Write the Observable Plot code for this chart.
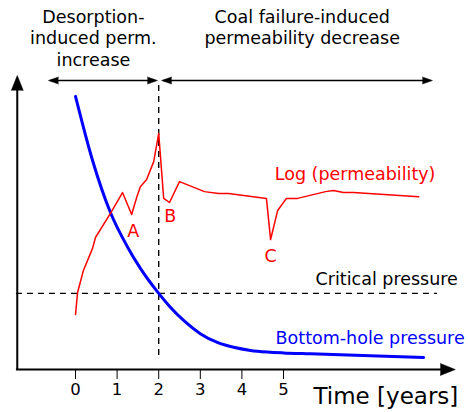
<!DOCTYPE html>
<html>
<head>
<meta charset="utf-8">
<script src="https://cdn.jsdelivr.net/npm/d3@7"></script>
<script src="https://cdn.jsdelivr.net/npm/@observablehq/plot@0.6"></script>
<style>
  html, body { margin: 0; padding: 0; background: #fff; }
</style>
</head>
<body>
<div id="chart"></div>
<script>
// ---- Data (time in years, values in relative units 0–100) ----
const tickYears = [0, 1, 2, 3, 4, 5];

const bhpYears  = [0, 0.41, 0.84, 1.25, 1.56, 2.0, 2.28, 2.6, 3.0, 3.41, 3.8, 4.21, 4.62, 5.0, 5.65, 7.09, 8.37];
const bhpValues = [92.9, 71.1, 53.4, 41.7, 34.4, 25.9, 21.2, 16.7, 12.2, 9.2, 7.55, 6.5, 5.95, 5.65, 5.33, 4.65, 4.1];

const permYears  = [0, 0.05, 0.19, 0.41, 0.48, 0.84, 1.13, 1.35, 1.47, 1.56, 1.71, 1.88, 2.0, 2.12, 2.26, 2.5, 3.1, 3.44, 3.68, 4.59, 4.69, 4.86, 5.07, 5.34, 6.01, 6.2, 6.44, 6.68, 8.25];
const permValues = [18.7, 26.2, 33.7, 41.2, 44.9, 53.1, 60.2, 52.7, 58.5, 62.2, 64.6, 70.7, 80.3, 58.2, 56.8, 63.9, 60.5, 59.9, 59.9, 58.2, 44.2, 54.1, 58.2, 58.2, 60.5, 60.9, 60.2, 60.2, 58.8];

const criticalPressure = 25.9;
const transitionYear = 2;

const pointLabels = ["A", "B", "C"];
const pointLabelYears = [1.39, 2.28, 4.69];
const pointLabelValues = [46.9, 52.2, 38.6];

const phaseLabels = [
  ["Desorption-", "induced perm.", "increase"],
  ["Coal failure-induced", "permeability decrease"]
];

// ---- Build tables ----
const bhp = bhpYears.map((t, i) => ({t, v: bhpValues[i]}));
const perm = permYears.map((t, i) => ({t, v: permValues[i]}));
const pts = pointLabels.map((s, i) => ({s, t: pointLabelYears[i], v: pointLabelValues[i]}));

const FONT = "DejaVu Sans";
const FS = 17.5;

// layout geometry in data units
const axisX0 = -1.40;   // y-axis position (years)
const axisXEnd = 9.13;  // x-axis arrow tip
const topArrowV = 98.3;

const phaseText = [
  {s: phaseLabels[0][0], t: 0.43, v: 119.8},
  {s: phaseLabels[0][1], t: 0.43, v: 112.7},
  {s: phaseLabels[0][2], t: 0.43, v: 105.3},
  {s: phaseLabels[1][0], t: 5.45, v: 119.8},
  {s: phaseLabels[1][1], t: 5.45, v: 112.7}
];

const hArrows = [
  {x1: -0.60, x2: 1.92, v: topArrowV},
  {x1: 2.12, x2: 8.52, v: topArrowV}
];
const hHeads = [
  {t: -0.65, v: topArrowV, rot: -90},
  {t: 1.97, v: topArrowV, rot: 90},
  {t: 2.07, v: topArrowV, rot: -90},
  {t: 8.58, v: topArrowV, rot: 90}
];

const chart = Plot.plot({
  width: 468,
  height: 412,
  marginLeft: 75,
  marginRight: 185,
  marginTop: 75,
  marginBottom: 43,
  style: {fontFamily: FONT, fontSize: "16.5px", background: "#fff", color: "#000"},
  x: {domain: [0, 5], ticks: tickYears, tickSize: 10, tickPadding: 4, label: null, tickFormat: d => String(d)},
  y: {domain: [0, 100], axis: null},
  marks: [
    // axes lines
    Plot.ruleY([0], {x1: -1.42, x2: 8.95, stroke: "#000", strokeWidth: 2}),
    Plot.ruleX([axisX0], {y1: 0, y2: 96, stroke: "#000", strokeWidth: 2}),
    Plot.vector([{t: axisXEnd, v: 0}], {x: "t", y: "v", length: 15, r: 6, rotate: 90, anchor: "end", shape: "spike", fill: "#000", stroke: "#000", strokeWidth: 0.5}),
    Plot.vector([{t: axisX0, v: 100}], {x: "t", y: "v", length: 15, r: 6, rotate: 0, anchor: "end", shape: "spike", fill: "#000", stroke: "#000", strokeWidth: 0.5}),
    // critical pressure & transition
    Plot.ruleY([criticalPressure], {x1: -1.42, x2: 8.70, stroke: "#000", strokeWidth: 1.4, strokeDasharray: "6,5"}),
    Plot.ruleX([transitionYear], {y1: 4.8, y2: topArrowV, stroke: "#000", strokeWidth: 1.4, strokeDasharray: "6,5"}),
    // phase arrows
    Plot.ruleY(hArrows, {y: "v", x1: "x1", x2: "x2", stroke: "#000", strokeWidth: 1.3}),
    Plot.vector(hHeads, {x: "t", y: "v", rotate: "rot", length: 10, r: 3.5, anchor: "end", shape: "spike", fill: "#000", stroke: "#000", strokeWidth: 0.5}),
    // series
    Plot.line(bhp, {x: "t", y: "v", stroke: "#0000ff", strokeWidth: 3, curve: "monotone-x"}),
    Plot.line(perm, {x: "t", y: "v", stroke: "#ff0000", strokeWidth: 1.5, curve: "linear"}),
    // labels
    Plot.text(pts, {x: "t", y: "v", text: "s", fill: "#ff0000", fontSize: FS, fontFamily: FONT}),
    Plot.text([{s: "Log (permeability)", t: 4.79, v: 66.2}], {x: "t", y: "v", text: "s", fill: "#ff0000", fontSize: FS, fontFamily: FONT, textAnchor: "start"}),
    Plot.text([{s: "Critical pressure", t: 5.77, v: 30.8}], {x: "t", y: "v", text: "s", fill: "#000", fontSize: FS, fontFamily: FONT, textAnchor: "start"}),
    Plot.text([{s: "Bottom-hole pressure", t: 4.81, v: 10.6}], {x: "t", y: "v", text: "s", fill: "#0000ff", fontSize: FS, fontFamily: FONT, textAnchor: "start"}),
    Plot.text([{s: "Time [years]", t: 5.72, v: -9.2}], {x: "t", y: "v", text: "s", fill: "#000", fontSize: 23, fontFamily: FONT, textAnchor: "start"}),
    Plot.text(phaseText, {x: "t", y: "v", text: "s", fill: "#000", fontSize: FS, fontFamily: FONT})
  ]
});
document.getElementById("chart").appendChild(chart);
</script>
</body>
</html>
